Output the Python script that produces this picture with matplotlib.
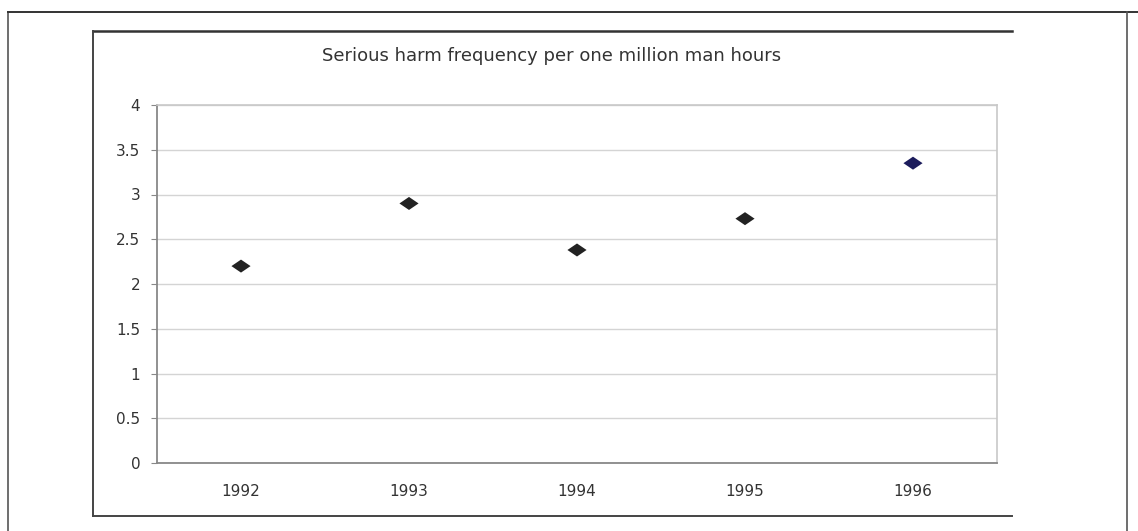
import numpy as np
import matplotlib
matplotlib.use("Agg")
import matplotlib.pyplot as plt
from matplotlib.lines import Line2D
from matplotlib.path import Path

years = ["1992", "1993", "1994", "1995", "1996"]
harm_rate = [2.20, 2.90, 2.38, 2.73, 3.35]
marker_colors = ["#222222", "#222222", "#222222", "#222222", "#1c1c5c"]
y_ticks = [0, 0.5, 1, 1.5, 2, 2.5, 3, 3.5, 4]
y_tick_labels = ["0", "0.5", "1", "1.5", "2", "2.5", "3", "3.5", "4"]
title = "Serious harm frequency per one million man hours"

W, H = 1138, 531
plt.rcParams['font.family'] = ['DejaVu Sans']

fig = plt.figure(figsize=(W / 100, H / 100), dpi=100)
fig.patch.set_facecolor("white")


def fx(x):
    return x / W


def fy(y):
    return 1 - y / H


def frame_line(xs, ys, color, lw):
    fig.add_artist(Line2D([fx(x) for x in xs], [fy(y) for y in ys],
                          color=color, lw=lw, transform=fig.transFigure))


# page frame
frame_line([8, 8], [12, 531], "#555555", 1.2)
frame_line([8, 1138], [12, 12], "#333333", 1.4)
frame_line([1127, 1127], [12, 531], "#555555", 1.2)

# chart box
frame_line([93, 1012], [31, 31], "#333333", 1.8)
frame_line([93, 93], [31, 516], "#444444", 1.4)
frame_line([93, 1012], [516, 516], "#444444", 1.4)

fig.text(fx(552), fy(56), title, ha="center", va="center",
         fontsize=13, color="#333333")

# flattened diamond marker
flat_diamond = Path([(-1, 0), (0, 0.68), (1, 0), (0, -0.68), (-1, 0)],
                    [Path.MOVETO, Path.LINETO, Path.LINETO, Path.LINETO,
                     Path.CLOSEPOLY])

ax = fig.add_axes([fx(157), fy(463), (997 - 157) / W, (463 - 105) / H])
x = np.arange(len(years))
ax.scatter(x, harm_rate, marker=flat_diamond, s=190, c=marker_colors,
           zorder=3, linewidths=0)

ax.set_xlim(-0.5, len(years) - 0.5)
ax.set_ylim(0, 4)
ax.set_yticks(y_ticks)
ax.set_yticklabels(y_tick_labels)
ax.set_xticks(x)
ax.set_xticklabels(years)
ax.tick_params(axis="y", length=4, color="#888888", pad=8,
               labelsize=11, labelcolor="#333333")
ax.tick_params(axis="x", length=0, pad=15, labelsize=11,
               labelcolor="#333333")
ax.grid(axis="y", color="#d4d4d4", lw=1)
ax.set_axisbelow(True)
for side in ["left", "bottom"]:
    ax.spines[side].set_color("#888888")
    ax.spines[side].set_linewidth(1.3)
for side in ["top", "right"]:
    ax.spines[side].set_color("#c8c8c8")
    ax.spines[side].set_linewidth(1.2)

fig.savefig("out.png", dpi=100)
